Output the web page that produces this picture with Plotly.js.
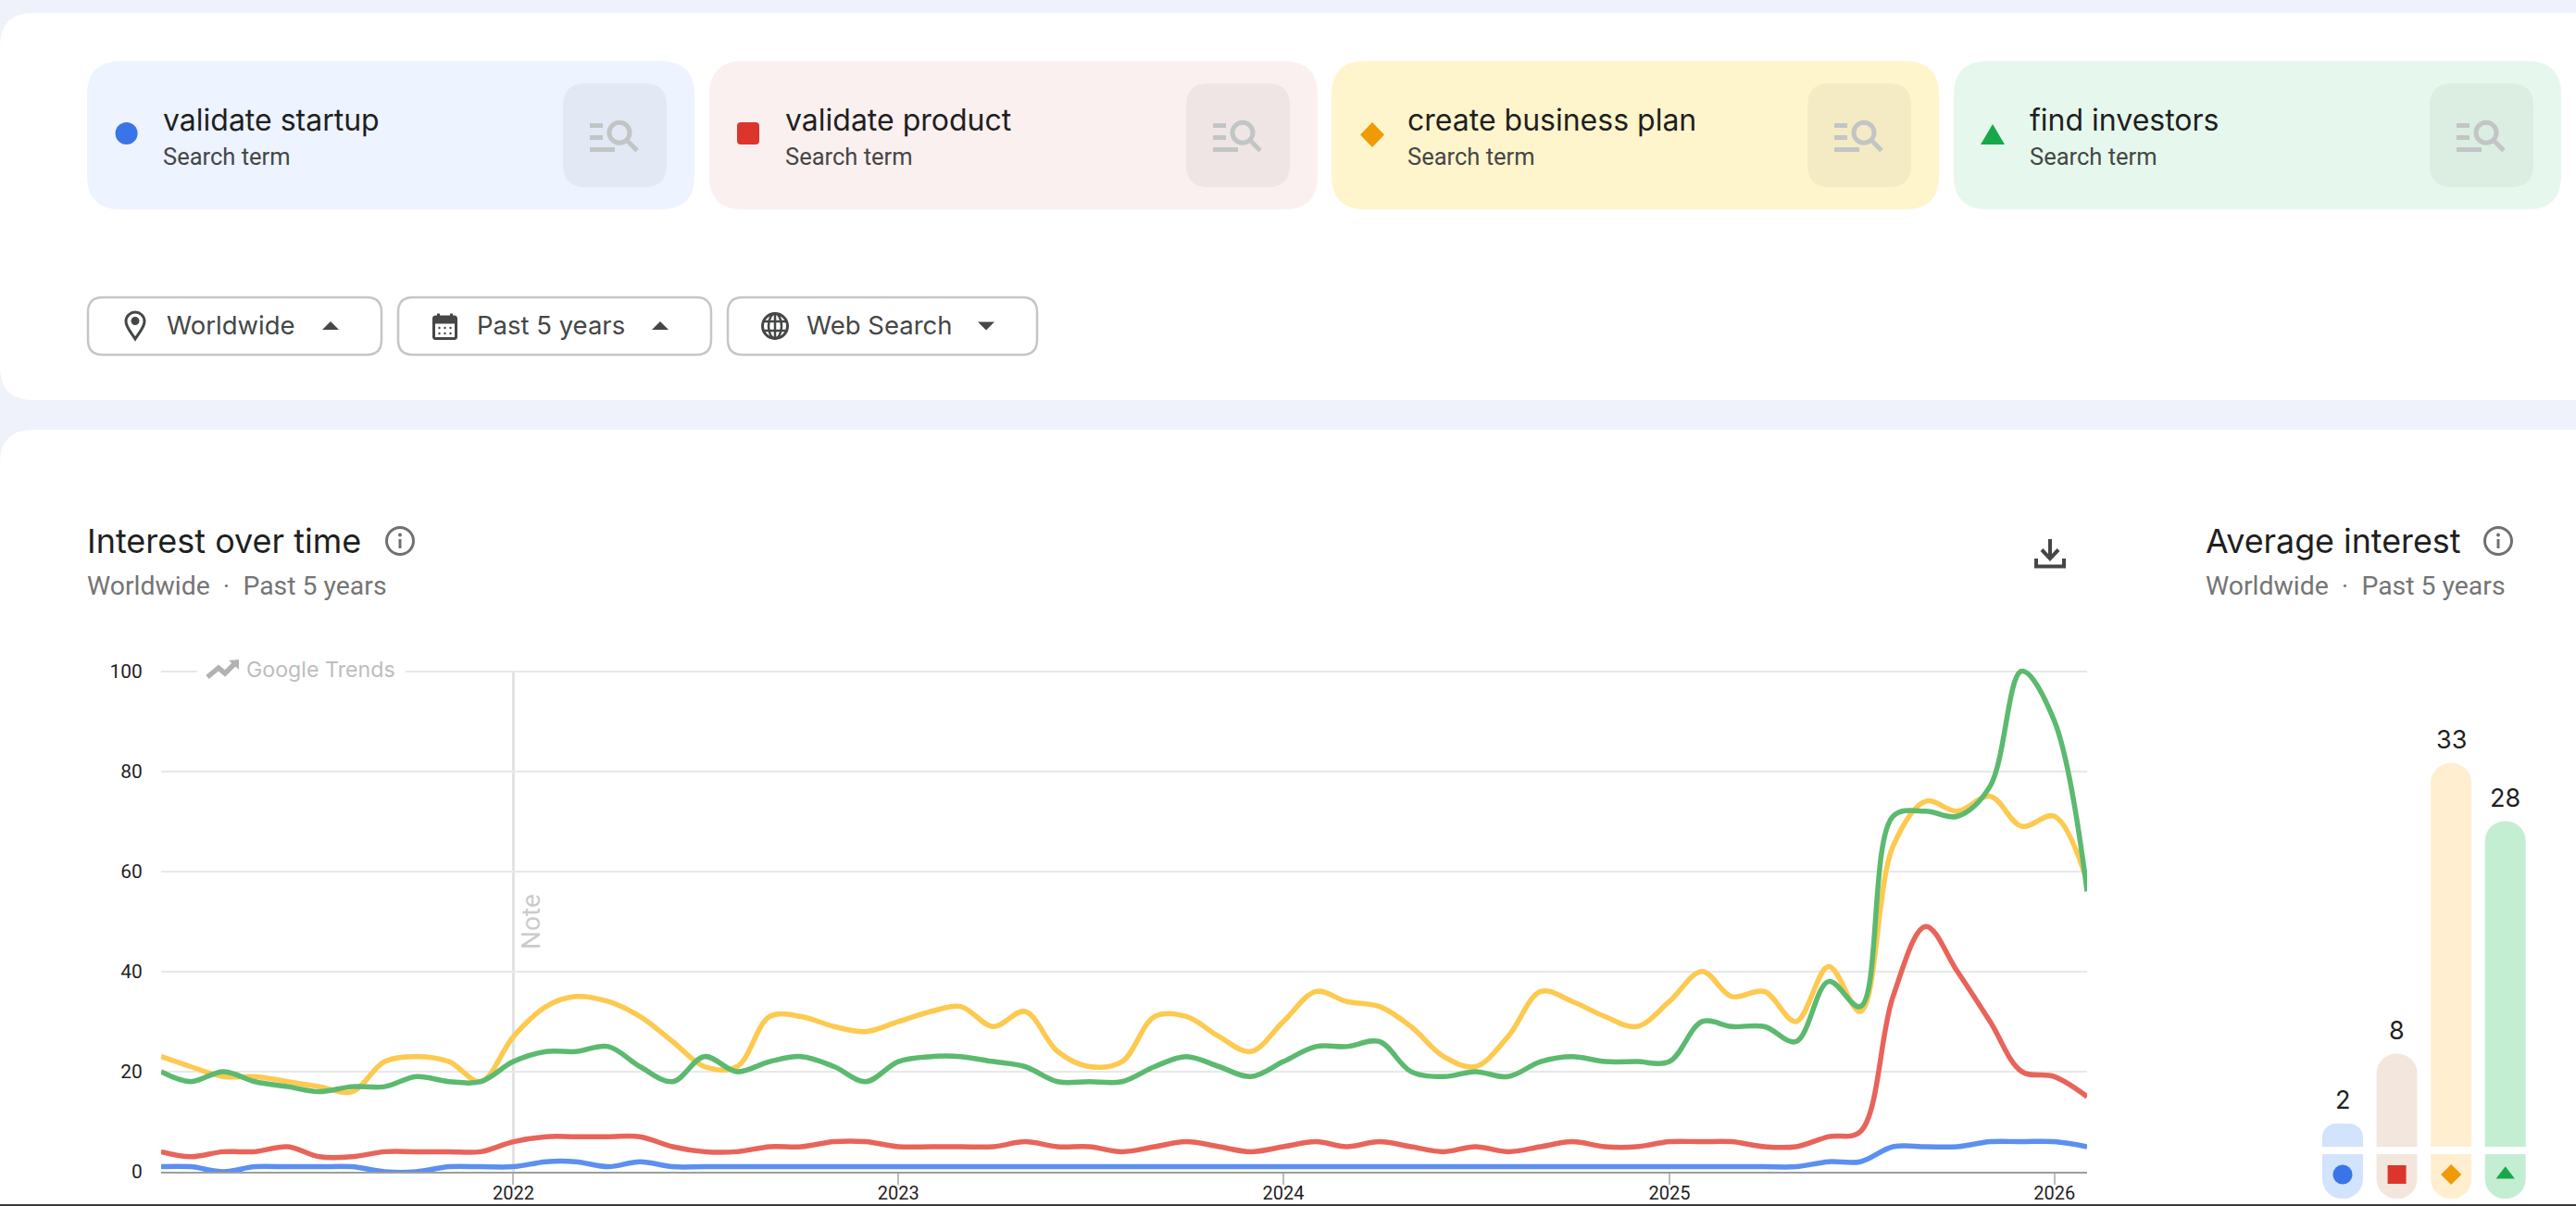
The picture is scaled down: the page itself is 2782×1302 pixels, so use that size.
<!DOCTYPE html>
<html>
<head>
<meta charset="utf-8">
<title>Google Trends comparison</title>
<script src="https://cdn.plot.ly/plotly-3.0.1.min.js"></script>
<style>html,body{margin:0;padding:0;background:#eff2fa;overflow:hidden}#chart{width:2782px;height:1302px}</style>
</head>
<body>
<div id="chart"></div>
<script>
// ---------- data ----------
const terms = ["validate startup", "validate product", "create business plan", "find investors"];
const averages = [2, 8, 33, 28];
const yTicks = [0, 20, 40, 60, 80, 100];
const yearTicks = ["2022-01-01", "2023-01-01", "2024-01-01", "2025-01-01", "2026-01-01"];
const validateStartup = [1,1,0,1,1,1,1,0,0,1,1,1,2,2,1,2,1,1,1,1,
  1,1,1,1,1,1,1,1,1,1,1,1,1,1,1,1,1,1,1,1,
  1,1,1,1,1,1,1,1,1,1,1,1,2,2,5,5,5,6,6,6,5];
const validateProduct = [4,3,4,4,5,3,3,4,4,4,4,6,7,7,7,7,5,4,4,5,
  5,6,6,5,5,5,5,6,5,5,4,5,6,5,4,5,6,5,6,5,
  4,5,4,5,6,5,5,6,6,6,5,5,7,8,35,49,40,30,20,19,15];
const createBusinessPlan = [23,21,19,19,18,17,16,22,23,22,18,27,33,35,34,31,26,21,21,31,
  31,29,28,30,32,33,29,32,24,21,22,31,31,27,24,30,36,34,33,29,
  23,21,27,36,34,31,29,34,40,35,36,30,41,32,65,74,72,75,69,71,58];
const findInvestors = [20,18,20,18,17,16,17,17,19,18,18,22,24,24,25,21,18,23,20,22,
  23,21,18,22,23,23,22,21,18,18,18,21,23,21,19,22,25,25,26,20,
  19,20,19,22,23,22,22,22,30,29,29,26,38,33,71,72,71,77,100,90,56];
const months = validateStartup.map((_, i) => {
  const d = new Date(Date.UTC(2021, 1 + i, 1));
  return d.toISOString().slice(0, 10);
});

// ---------- styles ----------
const W = 2782, H = 1302;
const lineColors = ["#5b8ff0", "#e8645a", "#fdc94f", "#5cb970"];
const markColors = ["#3a74e8", "#dc352b", "#f09a05", "#17a84c"];
const paleColors = ["#d2e3fc", "#f3e6dd", "#ffeecf", "#c4eed1"];
const chipColors = ["#edf3ff", "#fbf0f0", "#fff5cc", "#e6f8ed"];
const symbols = ["circle", "square", "diamond", "triangle-up"];
const iconSizes = [21, 20, 17, 17.5];
const barRadii = [15, 22, 22, 22];
const SANS = "Inter, 'Noto Sans', sans-serif", ROBOTO = "Roboto, sans-serif";

// ---------- pixel helpers for the page furniture ----------
const px = x => x / W, py = y => 1 - y / H;
function p(d) {
  let odd = true;
  return d.replace(/-?\d+(\.\d+)?/g, n => { const v = odd ? px(+n) : py(+n); odd = !odd; return v.toFixed(6); });
}
const rr = (x0, y0, x1, y1, r) => `M ${x0 + r} ${y0} L ${x1 - r} ${y0} Q ${x1} ${y0} ${x1} ${y0 + r} L ${x1} ${y1 - r} Q ${x1} ${y1} ${x1 - r} ${y1} L ${x0 + r} ${y1} Q ${x0} ${y1} ${x0} ${y1 - r} L ${x0} ${y0 + r} Q ${x0} ${y0} ${x0 + r} ${y0} Z`;
const shapes = [], notes = [];
const fill = (d, color, layer) => shapes.push({type: "path", xref: "paper", yref: "paper", path: p(d), fillcolor: color, line: {width: 0}, layer: layer || "above"});
const stroke = (d, color, w, layer) => shapes.push({type: "path", xref: "paper", yref: "paper", path: p(d), line: {color, width: w}, layer: layer || "above"});
const circ = (cx, cy, r, o) => shapes.push(Object.assign({type: "circle", xref: "paper", yref: "paper", x0: px(cx - (o.rx || r)), x1: px(cx + (o.rx || r)), y0: py(cy + r), y1: py(cy - r), layer: "above", line: {width: 0}}, o.s));
const txt = (x, y, text, size, color, family, extra) => notes.push(Object.assign({xref: "paper", yref: "paper", x: px(x), y: py(y), text, showarrow: false, xanchor: "left", yanchor: "middle", borderpad: 0, font: {size, color, family}}, extra));

// cards (rounded at the left edge, running off the right edge)
fill(rr(0, 14, W + 60, 432, 36), "#ffffff", "below");
fill(rr(0, 464, W + 60, H + 60, 36), "#ffffff", "below");
fill(`M 0 1300 L ${W} 1300 L ${W} ${H} L 0 ${H} Z`, "#3a3a3a", "above");

// search-term chips
const chipBox = [[94, 750], [766, 1423], [1438, 2094], [2110, 2766]];
const chipText = [175, 847, 1519, 2191];
terms.forEach((t, i) => {
  const [a, b] = chipBox[i], dx = b - 750;
  fill(rr(a, 66, b, 226, 36), chipColors[i], "below");
  fill(rr(608 + dx, 90, 720 + dx, 202, 24), "rgba(0,0,0,0.045)", "below");
  const g = "#c2c5c6";
  fill(`M ${637 + dx} 133 L ${651 + dx} 133 L ${651 + dx} 138 L ${637 + dx} 138 Z`, g);
  fill(`M ${637 + dx} 146 L ${651 + dx} 146 L ${651 + dx} 151 L ${637 + dx} 151 Z`, g);
  fill(`M ${637 + dx} 159 L ${664 + dx} 159 L ${664 + dx} 164 L ${637 + dx} 164 Z`, g);
  circ(669 + dx, 143.3, 11, {s: {line: {color: g, width: 5}}});
  stroke(`M ${678 + dx} 152.5 L ${688 + dx} 162.5`, g, 5);
  txt(chipText[i], 130, t, 32, "#1f1f1f", SANS);
  txt(chipText[i], 169, "Search term", 25.5, "#444746", ROBOTO);
});
circ(136.6, 144, 12, {s: {fillcolor: markColors[0]}});
fill(rr(796, 132, 820, 156, 4), markColors[1]);
fill("M 1482 132 L 1495 145.5 L 1482 159 L 1469 145.5 Z", markColors[2]);
fill("M 2152 134 L 2165 156 L 2139 156 Z", markColors[3]);

// dropdowns
const dd = "#444746";
[[95, 412], [430, 768], [786, 1120]].forEach(([a, b]) => stroke(rr(a, 321, b, 383, 16), "#c6c6c6", 2.5, "below"));
txt(179, 351.5, "Worldwide", 27.5, dd, SANS);
txt(514, 351.5, "Past 5 years", 27.5, dd, SANS);
txt(870, 351.5, "Web Search", 27.5, dd, SANS);
stroke("M 146 366 C 141 358 136 353 136 347 C 136 341 141 337 146 337 C 151 337 156 341 156 347 C 156 353 151 358 146 366 Z", dd, 3);
circ(146, 346.5, 4.5, {s: {fillcolor: dd}});
fill("M 348 356 L 366 356 L 357 347 Z", dd);
fill("M 704 356 L 722 356 L 713 347 Z", dd);
fill("M 1056 347.5 L 1074 347.5 L 1065 356.5 Z", dd);
stroke(rr(468.5, 342, 492.5, 365.5, 2), dd, 3);
fill("M 468 342 L 493 342 L 493 349.5 L 468 349.5 Z", dd);
fill("M 472 338.5 L 475 338.5 L 475 343 L 472 343 Z", dd);
fill("M 486 338.5 L 489 338.5 L 489 343 L 486 343 Z", dd);
[474.5, 480.5, 486.5].forEach(x => [354, 360].forEach(y => circ(x, y, 1.2, {s: {fillcolor: dd}})));
circ(837, 352, 13.5, {s: {line: {color: dd, width: 3}}});
circ(837, 352, 13.5, {rx: 7, s: {line: {color: dd, width: 2.5}}});
stroke("M 824 347 L 850 347", dd, 2.5);
stroke("M 824 357 L 850 357", dd, 2.5);
stroke("M 837 338.5 L 837 365.5", dd, 2.5);

// section headings
const info = (cx, cy) => {
  circ(cx, cy, 14.5, {s: {line: {color: "#707070", width: 3}}});
  fill(`M ${cx - 1.5} ${cy - 2} L ${cx + 1.5} ${cy - 2} L ${cx + 1.5} ${cy + 8} L ${cx - 1.5} ${cy + 8} Z`, "#707070");
  circ(cx, cy - 6.5, 2, {s: {fillcolor: "#707070"}});
};
txt(93, 584, "Interest over time", 36, "#1f1f1f", SANS);
txt(93, 632, "Worldwide&#160;&#160;·&#160;&#160;Past 5 years", 28.4, "#757575", ROBOTO);
info(432, 584);
txt(2381, 584, "Average interest", 35.8, "#1f1f1f", SANS);
txt(2381, 632, "Worldwide&#160;&#160;·&#160;&#160;Past 5 years", 28.4, "#757575", ROBOTO);
info(2698, 584);
stroke("M 2214 582 L 2214 603", dd, 4);
stroke("M 2205 593.5 L 2214 603 L 2223 593.5", dd, 4);
stroke("M 2199 603 L 2199 611.5 L 2229 611.5 L 2229 603", dd, 4);

// watermark over the 100 gridline
fill("M 213 714 L 438 714 L 438 734 L 213 734 Z", "#ffffff");
stroke("M 224 731 L 236 721 L 243 727 L 254 716", "#b2b2b2", 5.5);
fill("M 258 712 L 247 713 L 258 723 Z", "#b2b2b2");
txt(265, 722.5, "Google Trends", 23.2, "#bdbdbd", SANS);
notes.push({xref: "paper", yref: "paper", x: px(573), y: py(995), text: "Note", textangle: -90, showarrow: false, xanchor: "center", yanchor: "middle", font: {size: 28, color: "#cbcbcb", family: ROBOTO}});

// vertical note line on the line chart's own x axis
shapes.push({type: "line", xref: "x", yref: "y", x0: yearTicks[0], x1: yearTicks[0], y0: 0, y1: 100, line: {color: "#e2e2e2", width: 3}, layer: "below"});

// ---------- average-interest bars: 12.55 px per unit, baseline y=1238 ----------
const unit = 12.55, footTop = -8 / unit, footEnd = -56 / unit, iconY = -30 / unit;
averages.forEach((v, i) => notes.push({xref: "x2", yref: "y2", x: terms[i], y: v, yanchor: "bottom", yshift: 7, showarrow: false, text: String(v), font: {size: 27, color: "#1f1f1f", family: SANS}}));
// white gap between each bar and its foot
shapes.push({type: "rect", xref: "paper", yref: "y2", x0: px(2500), x1: px(2740), y0: footTop, y1: 0, fillcolor: "#ffffff", line: {width: 0}, layer: "above"});

// ---------- traces ----------
const series = [validateStartup, validateProduct, createBusinessPlan, findInvestors];
const traces = series.map((y, i) => ({
  type: "scatter", mode: "lines", name: terms[i], x: months, y, xaxis: "x", yaxis: "y", cliponaxis: false,
  line: {color: lineColors[i], width: 5.5, shape: "spline", smoothing: 1}
}));
terms.forEach((t, i) => {
  traces.push({type: "bar", x: [t], y: [averages[i]], xaxis: "x2", yaxis: "y2", width: 0.75, marker: {color: paleColors[i], cornerradius: barRadii[i], line: {width: 0}}});
});
traces.push({type: "bar", x: terms, y: terms.map(() => footEnd), xaxis: "x2", yaxis: "y2", width: 0.75, marker: {color: paleColors, cornerradius: 22, line: {width: 0}}});
traces.push({type: "scatter", mode: "markers", x: terms, y: terms.map(() => iconY), xaxis: "x2", yaxis: "y2", cliponaxis: false, marker: {symbol: symbols, size: iconSizes, opacity: 1, color: markColors, line: {width: 0}}});

const layout = {
  width: W, height: H, autosize: false, margin: {l: 0, r: 0, t: 0, b: 0, pad: 0},
  paper_bgcolor: "#eff2fa", plot_bgcolor: "rgba(0,0,0,0)", showlegend: false, barmode: "overlay",
  xaxis: {domain: [px(174), px(2254)], type: "date", range: ["2021-02-01", "2026-02-01"], tickvals: yearTicks, tickformat: "%Y", ticks: "outside", ticklen: 12, tickwidth: 2, tickcolor: "#bdbdbd", ticklabelstandoff: -8, showgrid: false, showline: true, linecolor: "#9e9e9e", linewidth: 2, zeroline: false, tickfont: {size: 20, color: "#1f1f1f", family: ROBOTO}, anchor: "y", automargin: false},
  yaxis: {domain: [py(1265), py(721.5)], range: [0, 100 + 3 / 5.405], tickvals: yTicks, ticks: "outside", ticklen: 15, tickcolor: "rgba(0,0,0,0)", gridcolor: "#e8e8e8", gridwidth: 2, zeroline: false, showline: false, tickfont: {size: 21, color: "#1f1f1f", family: ROBOTO}, anchor: "x", automargin: false},
  xaxis2: {domain: [px(2500.7), px(2735)], type: "category", categoryorder: "array", categoryarray: terms, range: [-0.5, 3.5], visible: false, anchor: "y2"},
  yaxis2: {domain: [py(1294), py(700)], range: [footEnd, (1238 - 700) / unit], visible: false, anchor: "x2"},
  shapes, annotations: notes
};
Plotly.newPlot("chart", traces, layout, {displayModeBar: false, responsive: false});
</script>
</body>
</html>
